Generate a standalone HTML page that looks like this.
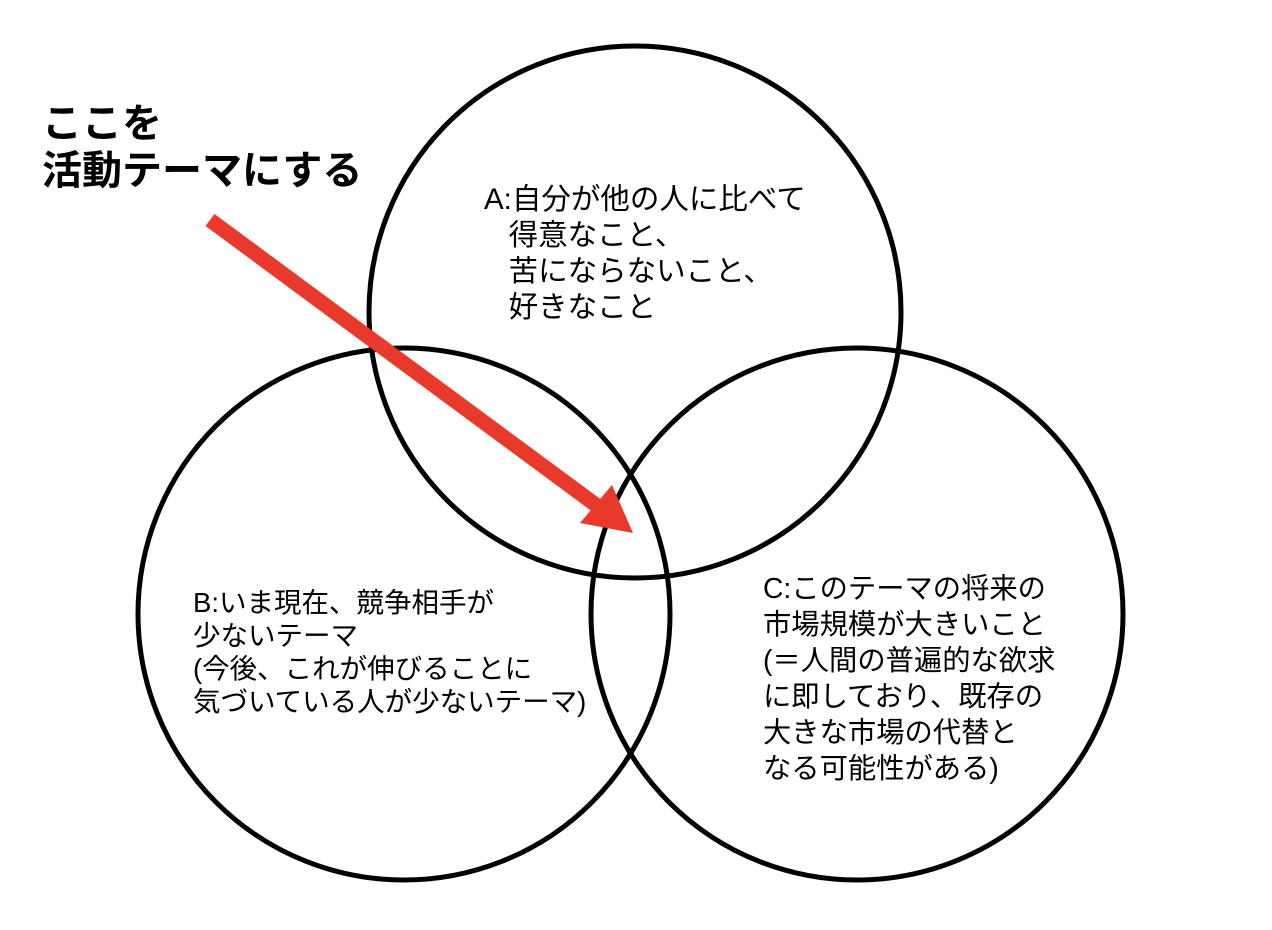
<!DOCTYPE html>
<html><head><meta charset="utf-8"><style>
body{margin:0;background:#fff;width:1272px;height:930px;overflow:hidden;position:relative;font-family:"Liberation Sans","Noto Sans CJK JP",sans-serif;}
.t{position:absolute;color:#000;white-space:pre;}
</style></head><body>
<svg width="1272" height="930" style="position:absolute;left:0;top:0">
<g fill="none" stroke="#000" stroke-width="5">
<circle cx="635" cy="312" r="266"/>
<circle cx="404" cy="614" r="266"/>
<circle cx="857" cy="614" r="266"/>
</g>
<line x1="210" y1="220" x2="600" y2="508" stroke="#e8392a" stroke-width="15"/>
<polygon points="633,533 580,523 612,485" fill="#e8392a"/>
</svg>
<div class="t" style="left:42px;top:101px;font-size:40px;font-weight:bold;line-height:47px">ここを
活動テーマにする</div>
<div class="t" style="left:484px;top:182px;font-size:29.5px;line-height:36px">A:自分が他の人に比べて
   得意なこと、
   苦にならないこと、
   好きなこと</div>
<div class="t" style="left:193px;top:586px;font-size:27.5px;line-height:33px">B:いま現在、競争相手が
少ないテーマ
(今後、これが伸びることに
気づいている人が少ないテーマ)</div>
<div class="t" style="left:763px;top:570px;font-size:28.3px;line-height:36px">C:このテーマの将来の
市場規模が大きいこと
(＝人間の普遍的な欲求
に即しており、既存の
大きな市場の代替と
なる可能性がある)</div>
</body></html>
